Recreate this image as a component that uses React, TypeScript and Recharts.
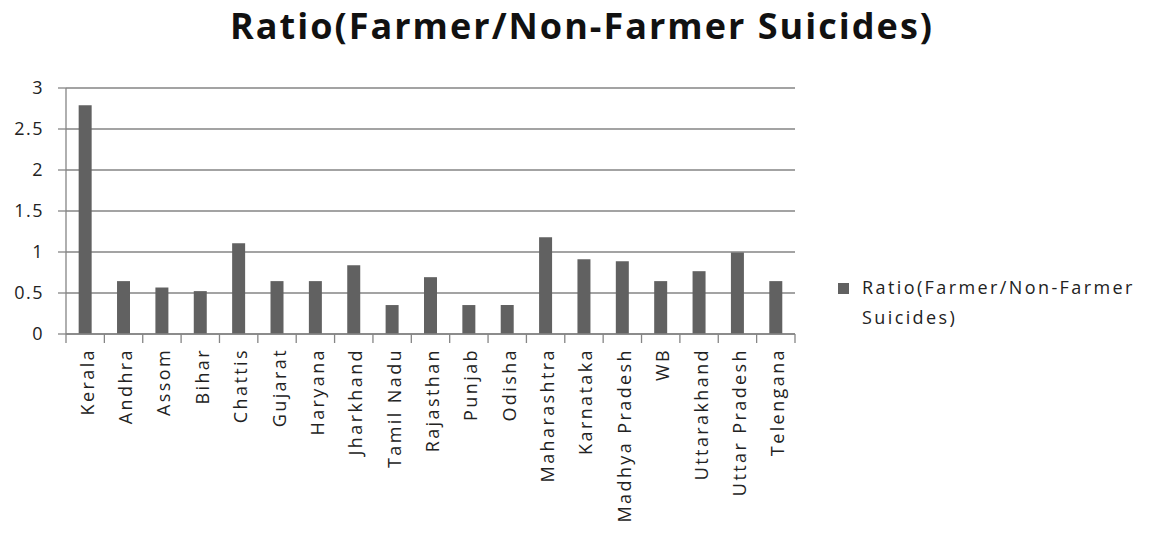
import React from 'react';
import { BarChart, Bar, XAxis, YAxis, CartesianGrid, Legend } from 'recharts';

const states = [
  'Kerala', 'Andhra', 'Assom', 'Bihar', 'Chattis', 'Gujarat', 'Haryana', 'Jharkhand', 'Tamil Nadu',
  'Rajasthan', 'Punjab', 'Odisha', 'Maharashtra', 'Karnataka', 'Madhya Pradesh', 'WB',
  'Uttarakhand', 'Uttar Pradesh', 'Telengana',
];
const ratios = [
  2.79, 0.645, 0.567, 0.523, 1.107, 0.645, 0.645, 0.839, 0.353,
  0.693, 0.353, 0.353, 1.18, 0.912, 0.888, 0.645,
  0.766, 0.993, 0.645,
];
const yTicks = [0, 0.5, 1, 1.5, 2, 2.5, 3];
const seriesName = 'Ratio(Farmer/Non-Farmer Suicides)';
const chartTitle = 'Ratio(Farmer/Non-Farmer Suicides)';

const data = states.map((state, i) => ({ state, ratio: ratios[i] }));

const W = 1151;
const H = 533;
const PLOT_LEFT = 66;
const PLOT_RIGHT = 795;
const PLOT_TOP = 88;
const AXIS_H = 199;
const AXIS_Y = H - AXIS_H;
const BAND = (PLOT_RIGHT - PLOT_LEFT) / states.length;
const LEGEND_W = 313;

const GRID = '#858585';
const BAR = '#616161';
const TEXT = '#222';
const FONT = '"Open Sans", sans-serif';

const StateTick = (props: any) => {
  const { x, payload, index } = props;
  const left = x - BAND / 2;
  const last = index === states.length - 1;
  return (
    <g>
      <line x1={left} x2={left} y1={AXIS_Y} y2={AXIS_Y + 9} stroke={GRID} strokeWidth={1.3} />
      {last && (
        <line x1={x + BAND / 2} x2={x + BAND / 2} y1={AXIS_Y} y2={AXIS_Y + 9} stroke={GRID} strokeWidth={1.3} />
      )}
      <text
        transform={`translate(${x + 8.5},${AXIS_Y + 14}) rotate(-90)`}
        textAnchor="end"
        fontSize={18}
        fontFamily={FONT}
        letterSpacing={2.4}
        fill={TEXT}
      >
        {payload.value}
      </text>
    </g>
  );
};

const renderLegend = (props: any) => {
  const item = props.payload && props.payload[0];
  return (
    <div style={{ display: 'flex', alignItems: 'flex-start' }}>
      <div style={{ width: 11, height: 11, background: BAR, marginTop: 11, marginRight: 13, flex: 'none' }} />
      <div
        style={{
          width: 289,
          fontFamily: FONT,
          fontSize: 18,
          lineHeight: '30px',
          letterSpacing: 2.4,
          color: TEXT,
        }}
      >
        {item ? item.value : seriesName}
      </div>
    </div>
  );
};

export default function App() {
  return (
    <div style={{ position: 'absolute', left: 0, top: 0, width: W, height: H, overflow: 'hidden', background: '#fff' }}>
      <svg width={W} height={H} style={{ position: 'absolute', left: 0, top: 0 }}>
        <text
          x={581}
          y={39}
          textAnchor="middle"
          fontFamily={FONT}
          fontWeight={700}
          fontSize={36}
          textLength={702}
          lengthAdjust="spacing"
          fill="#111"
        >
          {chartTitle}
        </text>
      </svg>
      <BarChart
        width={W}
        height={H}
        data={data}
        margin={{ top: PLOT_TOP, right: W - PLOT_RIGHT - LEGEND_W, bottom: 0, left: 0 }}
        barCategoryGap="33%"
      >
        <CartesianGrid vertical={false} stroke={GRID} strokeWidth={1.3} />
        <XAxis
          dataKey="state"
          interval={0}
          height={AXIS_H}
          tickLine={false}
          axisLine={{ stroke: GRID, strokeWidth: 1.3 }}
          tick={<StateTick />}
        />
        <YAxis
          width={PLOT_LEFT}
          domain={[0, 3]}
          ticks={yTicks}
          interval={0}
          tickSize={8}
          tickMargin={14}
          axisLine={{ stroke: GRID, strokeWidth: 1.3 }}
          tickLine={{ stroke: GRID, strokeWidth: 1.3 }}
          tick={{ fontSize: 18, fontFamily: FONT, fill: TEXT, letterSpacing: 1.5 }}
        />
        <Legend
          layout="vertical"
          align="right"
          verticalAlign="middle"
          content={renderLegend}
          wrapperStyle={{ position: 'absolute', left: 838, top: 272, width: LEGEND_W, height: 62 }}
        />
        <Bar dataKey="ratio" name={seriesName} fill={BAR} isAnimationActive={false} />
      </BarChart>
    </div>
  );
}
